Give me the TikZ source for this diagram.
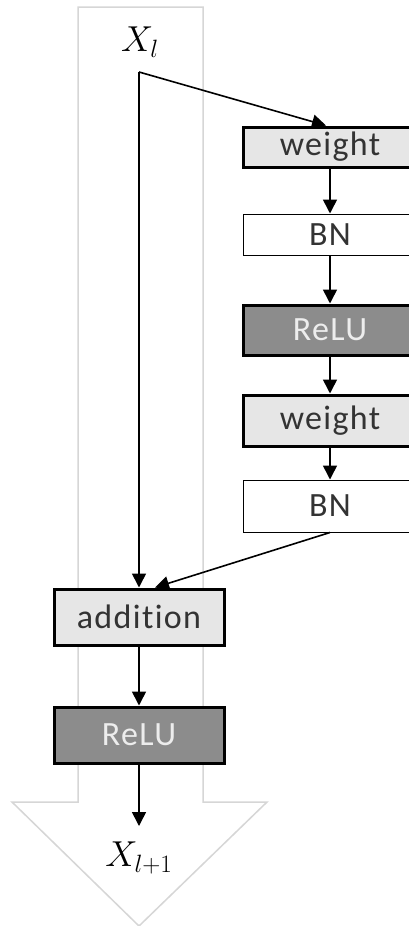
\documentclass[tikz,border=0pt]{standalone}
\usepackage{graphicx}
\usepackage{fontspec}
\setsansfont{Carlito}[Ligatures=NoCommon, LetterSpace=4]
\usetikzlibrary{arrows.meta}
\definecolor{lightfill}{HTML}{E6E6E6}
\definecolor{darkfill}{HTML}{8C8C8C}
\definecolor{outlinegray}{HTML}{D6D6D6}
\definecolor{txt}{HTML}{333333}
\tikzset{
  box/.style={draw=black, rectangle, inner sep=0pt, font=\sffamily\fontsize{34}{40}\selectfont, text=txt},
  lightbox/.style={box, fill=lightfill, line width=3pt, minimum width=174pt},
  darkbox/.style={box, fill=darkfill, line width=3pt, text=white!93!black, minimum width=174pt},
  thinbox/.style={box, fill=white, line width=1pt, minimum width=174pt},
  arr/.style={draw=black, line width=1.6pt, -{Triangle[length=14pt,width=14pt]}},
  bigarrow/.style={draw=outlinegray, line width=1.5pt, fill=white},
  lbl/.style={inner sep=0pt, font=\fontsize{24}{28}\selectfont}
}
\begin{document}
\begin{tikzpicture}[x=1pt,y=-1pt]
\useasboundingbox (0,0) rectangle (409,926);
\fill[white] (0,0) rectangle (409,926);
% big background arrow
\draw[bigarrow] (78,7) -- (203,7) -- (203,802) -- (267,802) -- (139,926) -- (12,802) -- (78,802) -- cycle;
% labels
\node[lbl] (xl) at (140,42) {\scalebox{1.45}{$X_l$}};
\node[lbl] (xl1) at (139,858) {\scalebox{1.45}{$X_{l+1}$}};
% residual branch
\node[lightbox, minimum height=40pt] (w1) at (330,147) {weight};
\node[thinbox, minimum height=41pt] (bn1) at (330,234.5) {BN};
\node[darkbox, minimum height=50pt] (r1) at (330,330) {ReLU};
\node[lightbox, minimum height=51pt] (w2) at (330,420.5) {weight};
\node[thinbox, minimum height=52pt] (bn2) at (330,506) {BN};
% main path
\node[lightbox, minimum width=170pt, minimum height=56pt] (add) at (139,617) {addition};
\node[darkbox, minimum width=170pt, minimum height=56pt] (r2) at (139,735) {ReLU};
\coordinate (s) at (139,72);
\coordinate (out) at (139,826);
% connectors
\draw[arr] (s) -- ([xshift=-4pt]w1.north);
\draw[arr] (s) -- (add.north);
\draw[arr] (w1) -- (bn1);
\draw[arr] (bn1) -- (r1);
\draw[arr] (r1) -- (w2);
\draw[arr] (w2) -- (bn2);
\draw[arr] (bn2.south) -- ([xshift=16pt]add.north);
\draw[arr] (add) -- (r2);
\draw[arr] (r2) -- (out);
\end{tikzpicture}
\end{document}
